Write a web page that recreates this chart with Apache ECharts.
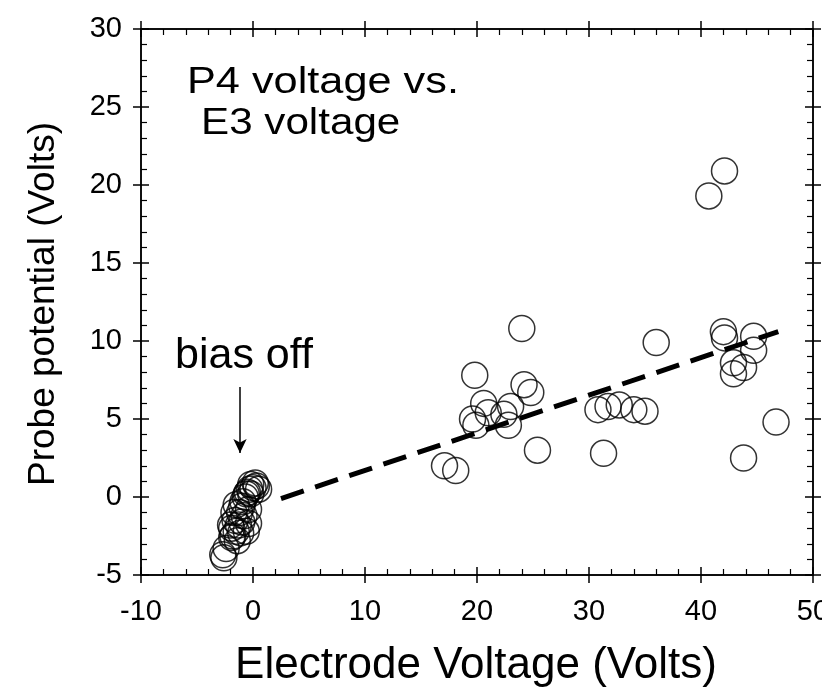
<!DOCTYPE html>
<html><head><meta charset="utf-8">
<script src="https://cdn.jsdelivr.net/npm/echarts@6/dist/echarts.min.js"></script>
<style>html,body{margin:0;padding:0;background:#fff}#c{width:822px;height:693px}</style>
</head><body><div id="c"></div>
<script>
// Data: [Electrode Voltage, Probe potential]
const biasOffX = [-2.7,-2.6,-2.4,-1.8,-1.5,-1.3,-1.6,-1.2,-1.0,-0.9,-0.7,-0.5,-0.3,0.0,0.3,-0.6,-1.4,-1.1,-0.8,-1.9,-0.4,
                  0.2,-0.2,0.5,-0.4,-0.6,-1.9,-2.0,-1.5,-1.7,-1.0,-0.2];
const biasOffY = [-3.7,-3.9,-3.3,-2.5,-2.2,-1.8,-1.5,-1.0,-0.6,-0.3,0.0,0.3,0.5,0.6,0.7,0.2,-2.8,-2.3,-1.2,-2.0,-0.8,
                  0.9,0.8,0.5,-1.7,-2.2,-2.6,-1.8,-0.5,-1.0,-1.6,0.2];
const biasOnX = [42.1,40.7,24.0,36.0,42.0,42.1,44.7,44.7,42.9,43.8,42.9,46.7,43.8,
                 19.8,20.6,19.6,19.9,22.4,24.2,24.8,22.8,25.4,31.3,30.8,31.7,32.7,34.0,35.0,17.1,18.1,21.0,23.0];
const biasOnY = [20.9,19.3,10.8,9.9,10.6,10.2,10.3,9.4,8.6,8.3,7.9,4.8,2.5,
                 7.8,6.0,5.0,4.6,5.3,7.2,6.7,4.6,3.0,2.8,5.6,5.8,5.9,5.6,5.5,2.0,1.7,5.4,5.8];
const fitX = [2.5, 46.9];
const fitY = [-0.1, 10.6];
const arrowX = [-1.16, -1.16];
const arrowY = [7.05, 2.82];
const xTicks = {min:-10, max:50, interval:10};
const yTicks = {min:-5, max:30, interval:5};

const font = 'Liberation Sans';
const pts = biasOffX.map((x,i)=>[x,biasOffY[i]]).concat(biasOnX.map((x,i)=>[x,biasOnY[i]]));
const fit = fitX.map((x,i)=>[x,fitY[i]]);

function xAx(pos, labels, inside){
  return {type:'value', position:pos, min:xTicks.min, max:xTicks.max, interval:xTicks.interval,
    axisLine:{show:true, onZero:false, lineStyle:{color:'#000', width:1.5}},
    axisTick:{show:true, inside:inside, length:8, lineStyle:{color:'#000', width:1.5}},
    minorTick:{show:inside, splitNumber:5, length:6, lineStyle:{color:'#000', width:1.2}},
    splitLine:{show:false},
    axisLabel:{show:labels, color:'#000', fontFamily:font, fontSize:29, margin:22, hideOverlap:false}};
}
function yAx(pos, labels, inside){
  return {type:'value', position:pos, min:yTicks.min, max:yTicks.max, interval:yTicks.interval,
    axisLine:{show:true, onZero:false, lineStyle:{color:'#000', width:1.5}},
    axisTick:{show:true, inside:inside, length:8, lineStyle:{color:'#000', width:1.5}},
    minorTick:{show:inside, splitNumber:5, length:6, lineStyle:{color:'#000', width:1.2}},
    splitLine:{show:false},
    axisLabel:{show:labels, color:'#000', fontFamily:font, fontSize:29, margin:19}};
}

const chart = echarts.init(document.getElementById('c'), null, {renderer:'canvas'});
chart.setOption({
  backgroundColor:'#fff',
  animation:false,
  grid:{left:141, right:9, top:29, bottom:118, containLabel:false, outerBoundsMode:'none'},
  xAxis:[xAx('bottom',true,false), xAx('bottom',false,true), xAx('top',false,false), xAx('top',false,true)],
  yAxis:[yAx('left',true,false), yAx('left',false,true), yAx('right',false,false), yAx('right',false,true)],
  graphic:[
    {type:'text', x:187, y:83, scaleX:1.17, style:{text:'P4 voltage vs.', font:'37px "Liberation Sans"', fill:'#000', textAlign:'left', textVerticalAlign:'middle'}},
    {type:'text', x:201, y:124, scaleX:1.14, style:{text:'E3 voltage', font:'37px "Liberation Sans"', fill:'#000', textAlign:'left', textVerticalAlign:'middle'}},
    {type:'text', x:175, y:356, style:{text:'bias off', font:'43px "Liberation Sans"', fill:'#000', textAlign:'left', textVerticalAlign:'middle'}},
    {type:'text', x:476, y:666, style:{text:'Electrode Voltage (Volts)', font:'44px "Liberation Sans"', fill:'#000', textAlign:'center', textVerticalAlign:'middle'}},
    {type:'text', x:44, y:304, rotation:Math.PI/2, style:{text:'Probe potential (Volts)', font:'37px "Liberation Sans"', fill:'#000', textAlign:'center', textVerticalAlign:'middle'}}
  ],
  series:[
    {type:'line', data:fit, symbol:'none', xAxisIndex:0, yAxisIndex:0,
     lineStyle:{color:'#000', width:5, type:[24,12]}},
    {type:'scatter', data:pts, symbol:'circle', symbolSize:26, xAxisIndex:0, yAxisIndex:0,
     itemStyle:{color:'rgba(0,0,0,0)', borderColor:'#000', borderWidth:1.5},
     markLine:{silent:true, symbol:['none','arrow'], symbolSize:[10,14], label:{show:false},
       lineStyle:{color:'#000', width:1.5, type:'solid'},
       data:[[{coord:[arrowX[0],arrowY[0]]},{coord:[arrowX[1],arrowY[1]]}]]}}
  ]
});
</script></body></html>
